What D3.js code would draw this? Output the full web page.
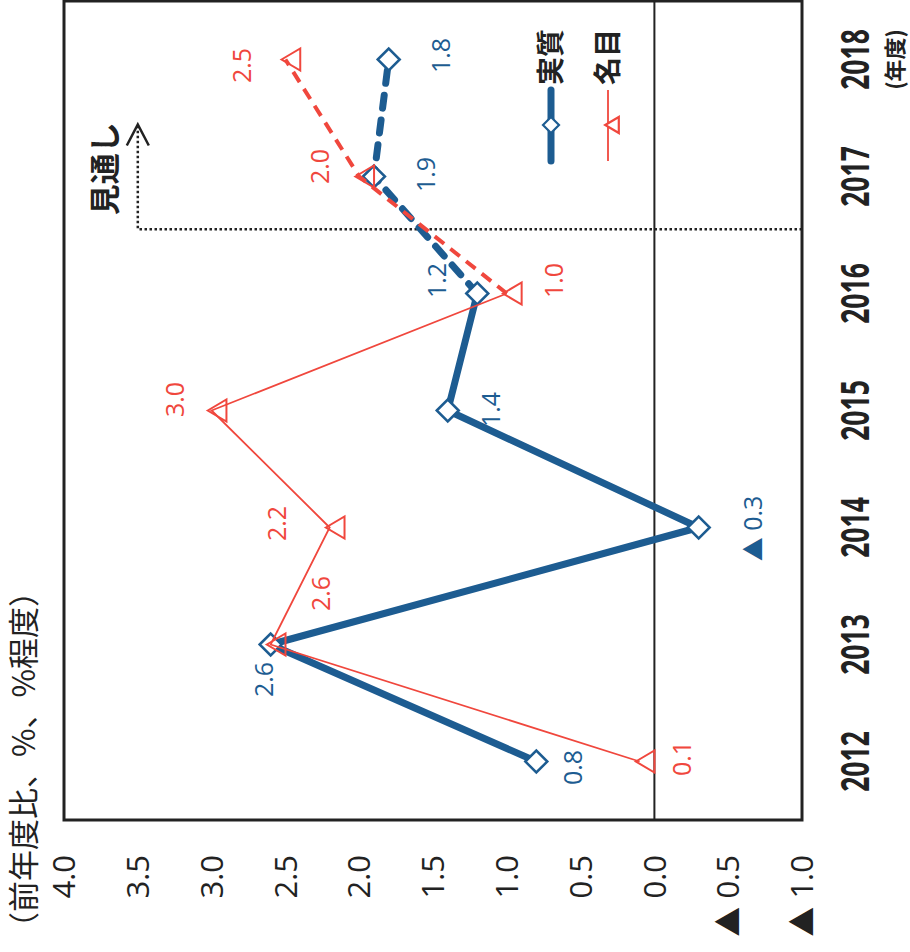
<!DOCTYPE html>
<html><head><meta charset="utf-8">
<script src="https://cdn.jsdelivr.net/npm/d3@7"></script>
<style>
html,body{margin:0;padding:0;background:#fff;}
svg{display:block;}
</style></head>
<body>
<svg id="chart" width="910" height="952"></svg>
<script>
// ---------- data ----------
const years = ["2012", "2013", "2014", "2015", "2016", "2017", "2018"];
const realValues = [0.8, 2.6, -0.3, 1.4, 1.2, 1.9, 1.8];      // 実質
const nominalValues = [0.1, 2.6, 2.2, 3.0, 1.0, 2.0, 2.5];    // 名目
const valueTicks = [4.0, 3.5, 3.0, 2.5, 2.0, 1.5, 1.0, 0.5, 0.0, -0.5, -1.0];
const seriesNames = ["実質", "名目"];
const forecastFrom = "2016";   // dashed segments start here
const axisTitle = "（前年度比、%、%程度）";
const yearUnit = "(年度)";
const forecastLabel = "見通し";

// label placement (offsets in unrotated chart coords: [dx, dy])
const realLabelOffsets = [[-6, 37], [-35, -7], [-1, 54], [1, 43], [13, -40], [2, 52], [4, 52]];
const nominalLabelOffsets = [[3, 42], [51, 50], [4, -53], [11, -37], [13, 47], [10, -39], [-6, -43]];

// ---------- styles ----------
const BLUE = "#1d5c91";
const RED = "#f0473d";
const INK = "#222";
const NUMFONT = "'Open Sans','Noto Sans',sans-serif";
const CJKFONT = "'Noto Sans CJK JP',sans-serif";

// negative numbers use ▲ prefix
function writeValue(sel, v, triSize) {
  if (v < 0) {
    sel.append("tspan").attr("font-family", CJKFONT).attr("font-size", triSize).text("▲");
    sel.append("tspan").text(" " + Math.abs(v).toFixed(1));
  } else {
    sel.text(v.toFixed(1));
  }
}

const svg = d3.select("#chart");
// chart drawn in normal orientation, then rotated 90° counter-clockwise
const g = svg.append("g").attr("transform", "translate(0,952) rotate(-90)");

const x = d3.scaleBand().domain(years).range([132, 951]).padding(0);
const y = d3.scaleLinear().domain([-1, 4]).range([802, 64]);
const cx = d => x(d) + x.bandwidth() / 2;

// frame
g.append("rect")
  .attr("x", 132).attr("y", y(4))
  .attr("width", 951 - 132).attr("height", y(-1) - y(4))
  .attr("fill", "none").attr("stroke", INK).attr("stroke-width", 3);

// zero line
g.append("line")
  .attr("x1", 132).attr("x2", 951)
  .attr("y1", y(0)).attr("y2", y(0))
  .attr("stroke", INK).attr("stroke-width", 2);

// value axis tick labels
g.selectAll("text.vtick").data(valueTicks).enter().append("text")
  .attr("class", "vtick")
  .attr("x", 97).attr("y", d => y(d))
  .attr("dy", "0.36em")
  .attr("text-anchor", "end")
  .attr("font-family", NUMFONT)
  .attr("font-size", 31).attr("fill", INK)
  .each(function (d) { writeValue(d3.select(this), d, 30); });

// axis title
g.append("text")
  .attr("x", 9).attr("y", 35)
  .attr("font-family", CJKFONT)
  .attr("font-size", 31).attr("fill", INK)
  .text(axisTitle);

// year labels (condensed bold look)
g.selectAll("text.year").data(years).enter().append("text")
  .attr("class", "year")
  .attr("transform", d => `translate(${cx(d)},869) scale(0.68,1)`)
  .attr("text-anchor", "middle")
  .attr("font-family", "'Noto Sans',sans-serif")
  .attr("font-weight", "bold")
  .attr("font-size", 39).attr("fill", INK)
  .text(d => d);

g.append("text")
  .attr("x", cx("2018")).attr("y", 903)
  .attr("text-anchor", "middle")
  .attr("font-family", CJKFONT)
  .attr("font-weight", "bold")
  .attr("font-size", 22).attr("fill", INK)
  .text(yearUnit);

// forecast marker (dotted line + arrow)
const fx = x(forecastFrom) + x.bandwidth() * 1.05;
const arrowEnd = cx("2017") + 52;
g.append("path")
  .attr("d", `M${fx},${y(-1)} L${fx},${y(3.5)} L${arrowEnd},${y(3.5)}`)
  .attr("fill", "none").attr("stroke", INK)
  .attr("stroke-width", 2.5).attr("stroke-dasharray", "2.5,2.5");
g.append("path")
  .attr("d", `M${arrowEnd - 21},${y(3.5) - 11} L${arrowEnd},${y(3.5)} L${arrowEnd - 21},${y(3.5) + 11}`)
  .attr("fill", "none").attr("stroke", INK).attr("stroke-width", 2.5);
g.append("text")
  .attr("x", (fx + arrowEnd) / 2 + 8).attr("y", y(3.5) - 22)
  .attr("text-anchor", "middle")
  .attr("font-family", CJKFONT)
  .attr("font-weight", "bold")
  .attr("font-size", 31).attr("fill", INK)
  .text(forecastLabel);

// series helpers
const line = d3.line().x(d => cx(d.year)).y(d => y(d.value));
const fi = years.indexOf(forecastFrom);
function series(values) { return years.map((yr, i) => ({ year: yr, value: values[i] })); }
const realData = series(realValues);
const nomData = series(nominalValues);

const diamond = s => `M0,${-s} L${s},0 L0,${s} L${-s},0 Z`;
const triangle = s => `M0,${-s * 0.35} L${s},${s * 1.35} L${-s},${s * 1.35} Z`;

// 実質 lines
g.append("path").datum(realData.slice(0, fi + 1))
  .attr("d", line).attr("fill", "none").attr("stroke", BLUE)
  .attr("stroke-width", 7).attr("stroke-linejoin", "round");
g.append("path").datum(realData.slice(fi))
  .attr("d", line).attr("fill", "none").attr("stroke", BLUE)
  .attr("stroke-width", 7).attr("stroke-linecap", "round")
  .attr("stroke-dasharray", "13,12");
g.selectAll("path.rm").data(realData).enter().append("path")
  .attr("class", "rm")
  .attr("transform", d => `translate(${cx(d.year)},${y(d.value)})`)
  .attr("d", diamond(11)).attr("fill", "#fff")
  .attr("stroke", BLUE).attr("stroke-width", 2.5);

// 名目 lines
g.append("path").datum(nomData.slice(0, fi + 1))
  .attr("d", line).attr("fill", "none").attr("stroke", RED)
  .attr("stroke-width", 1.8);
g.append("path").datum(nomData.slice(fi))
  .attr("d", line).attr("fill", "none").attr("stroke", RED)
  .attr("stroke-width", 4).attr("stroke-dasharray", "12,8");
g.selectAll("path.nm").data(nomData).enter().append("path")
  .attr("class", "nm")
  .attr("transform", d => `translate(${cx(d.year)},${y(d.value)})`)
  .attr("d", triangle(11)).attr("fill", "none")
  .attr("stroke", RED).attr("stroke-width", 2);

// data labels
function labels(data, offs, color, cls) {
  g.selectAll("text." + cls).data(data).enter().append("text")
    .attr("class", cls)
    .attr("x", (d, i) => cx(d.year) + offs[i][0])
    .attr("y", (d, i) => y(d.value) + offs[i][1])
    .attr("dy", "0.36em")
    .attr("text-anchor", "middle")
    .attr("font-family", NUMFONT)
    .attr("font-size", 25).attr("fill", color)
    .each(function (d) { writeValue(d3.select(this), d.value, 24); });
}
labels(realData, realLabelOffsets, BLUE, "rl");
labels(nomData, nominalLabelOffsets, RED, "nl");

// legend
const lg = g.append("g");
const legendRows = [
  { name: seriesNames[0], color: BLUE, width: 7, mark: diamond(8), yy: 551 },
  { name: seriesNames[1], color: RED, width: 1.8, mark: triangle(8), yy: 608 }
];
legendRows.forEach(r => {
  lg.append("line").attr("x1", 791).attr("x2", 862).attr("y1", r.yy).attr("y2", r.yy)
    .attr("stroke", r.color).attr("stroke-width", r.width).attr("stroke-linecap", r.width > 3 ? "round" : "butt");
  lg.append("path").attr("transform", `translate(827,${r.yy})`).attr("d", r.mark)
    .attr("fill", "#fff").attr("stroke", r.color).attr("stroke-width", 2.2);
  lg.append("text").attr("x", 867).attr("y", r.yy).attr("dy", "0.36em")
    .attr("font-family", CJKFONT).attr("font-weight", "bold")
    .attr("font-size", 28).attr("fill", INK).text(r.name);
});
</script>
</body></html>
